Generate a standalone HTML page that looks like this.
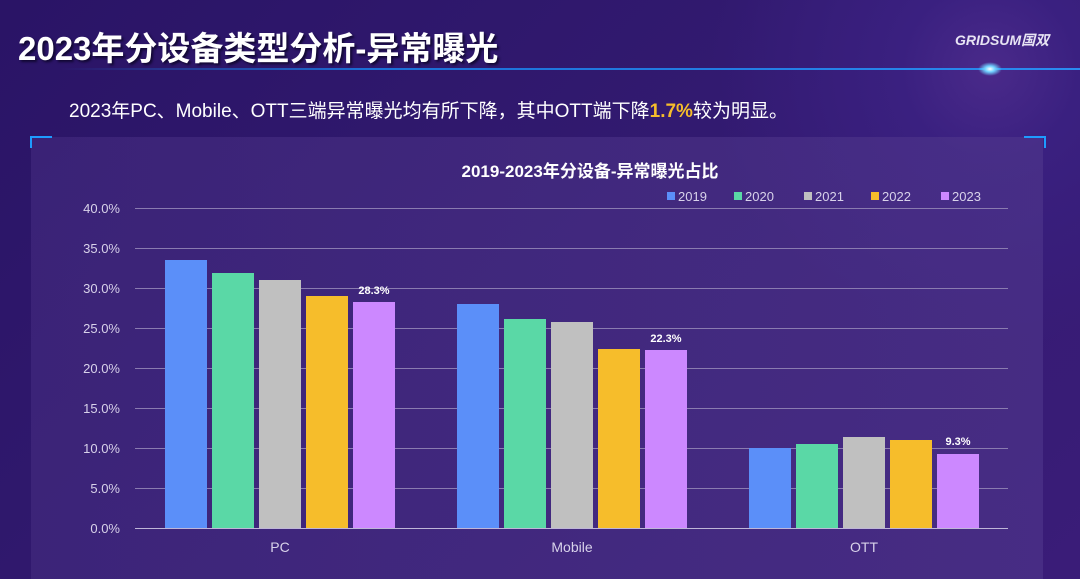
<!DOCTYPE html>
<html><head><meta charset="utf-8"><style>
body{margin:0;width:1080px;height:579px;overflow:hidden;font-family:"Liberation Sans","Noto Sans CJK SC",sans-serif;}
.bg{position:absolute;left:0;top:0;width:1080px;height:579px;background:radial-gradient(circle at 990px 70px,#4a2a8a 0,#3a2080 8%,transparent 25%),linear-gradient(135deg,#2a1466 0%,#321a70 50%,#3a1c78 100%);}
.t{position:absolute;color:#fff;white-space:nowrap}
</style></head><body>
<div class="bg"></div>
<div class="t" style="left:18px;top:22px;font-size:33px;font-weight:bold;text-shadow:2px 2px 2px #120833;">2023年分设备类型分析-异常曝光</div>
<div class="t" style="left:955px;top:30px;font-size:14px;font-weight:bold;font-style:italic;color:#e8e4f4;">GRIDSUM国双</div>
<div style="position:absolute;left:60px;top:68px;width:1020px;height:2px;background:linear-gradient(90deg,transparent,#1b6fd6 30%,#2a8cf0);"></div>
<div style="position:absolute;left:978px;top:62px;width:24px;height:14px;border-radius:50%;background:radial-gradient(#fff 0,#6fd0ff 30%,transparent 70%);"></div>
<div class="t" style="left:69px;top:96px;font-size:19px;color:#fff;">2023年PC、Mobile、OTT三端异常曝光均有所下降，其中OTT端下降<span style="color:#f6bd2b;font-weight:bold">1.7%</span>较为明显。</div>
<div style="position:absolute;left:31px;top:137px;width:1012px;height:442px;background:linear-gradient(90deg,rgba(70,45,130,.55),rgba(80,55,140,.6));"></div>
<div style="position:absolute;left:30px;top:136px;width:20px;height:10px;border-left:2px solid #1e9bff;border-top:2px solid #1e9bff"></div>
<div style="position:absolute;left:1024px;top:136px;width:20px;height:10px;border-right:2px solid #1e9bff;border-top:2px solid #1e9bff"></div>
<svg style="position:absolute;left:0;top:0" width="1080" height="579" font-family="Liberation Sans, Noto Sans CJK SC, sans-serif">
<text x="590" y="177" fill="#fff" font-size="17" font-weight="bold" text-anchor="middle">2019-2023年分设备-异常曝光占比</text>
<g font-size="13" fill="#d8d2ea">
<rect x="667" y="192" width="8" height="8" fill="#5b8ff9"/><text x="678" y="201">2019</text>
<rect x="734" y="192" width="8" height="8" fill="#5ad8a6"/><text x="745" y="201">2020</text>
<rect x="804" y="192" width="8" height="8" fill="#c0c0c0"/><text x="815" y="201">2021</text>
<rect x="871" y="192" width="8" height="8" fill="#f6bd2b"/><text x="882" y="201">2022</text>
<rect x="941" y="192" width="8" height="8" fill="#cc88ff"/><text x="952" y="201">2023</text>
</g>
<g stroke="#8a7bb0" stroke-width="1">
<line x1="135" x2="1008" y1="208.5" y2="208.5"/><line x1="135" x2="1008" y1="248.5" y2="248.5"/><line x1="135" x2="1008" y1="288.5" y2="288.5"/><line x1="135" x2="1008" y1="328.5" y2="328.5"/><line x1="135" x2="1008" y1="368.5" y2="368.5"/><line x1="135" x2="1008" y1="408.5" y2="408.5"/><line x1="135" x2="1008" y1="448.5" y2="448.5"/><line x1="135" x2="1008" y1="488.5" y2="488.5"/>
</g>
<g font-size="13" fill="#d8d2ea" text-anchor="end">
<text x="120" y="213">40.0%</text><text x="120" y="253">35.0%</text><text x="120" y="293">30.0%</text><text x="120" y="333">25.0%</text><text x="120" y="373">20.0%</text><text x="120" y="413">15.0%</text><text x="120" y="453">10.0%</text><text x="120" y="493">5.0%</text><text x="120" y="533">0.0%</text>
</g>
<g>
<rect x="165" y="260" width="42" height="268" fill="#5b8ff9"/>
<rect x="212" y="273" width="42" height="255" fill="#5ad8a6"/>
<rect x="259" y="280" width="42" height="248" fill="#c0c0c0"/>
<rect x="306" y="296" width="42" height="232" fill="#f6bd2b"/>
<rect x="353" y="302" width="42" height="226" fill="#cc88ff"/>
<rect x="457" y="304" width="42" height="224" fill="#5b8ff9"/>
<rect x="504" y="319" width="42" height="209" fill="#5ad8a6"/>
<rect x="551" y="322" width="42" height="206" fill="#c0c0c0"/>
<rect x="598" y="349" width="42" height="179" fill="#f6bd2b"/>
<rect x="645" y="350" width="42" height="178" fill="#cc88ff"/>
<rect x="749" y="448" width="42" height="80" fill="#5b8ff9"/>
<rect x="796" y="444" width="42" height="84" fill="#5ad8a6"/>
<rect x="843" y="437" width="42" height="91" fill="#c0c0c0"/>
<rect x="890" y="440" width="42" height="88" fill="#f6bd2b"/>
<rect x="937" y="454" width="42" height="74" fill="#cc88ff"/>
</g>
<line x1="135" x2="1008" y1="528.5" y2="528.5" stroke="#bfb6d8"/>
<g font-size="11" fill="#fff" font-weight="bold" text-anchor="middle">
<text x="374" y="294">28.3%</text><text x="666" y="342">22.3%</text><text x="958" y="445">9.3%</text>
</g>
<g font-size="14" fill="#d8d2ea" text-anchor="middle">
<text x="280" y="552">PC</text><text x="572" y="552">Mobile</text><text x="864" y="552">OTT</text>
</g>
</svg>
</body></html>
